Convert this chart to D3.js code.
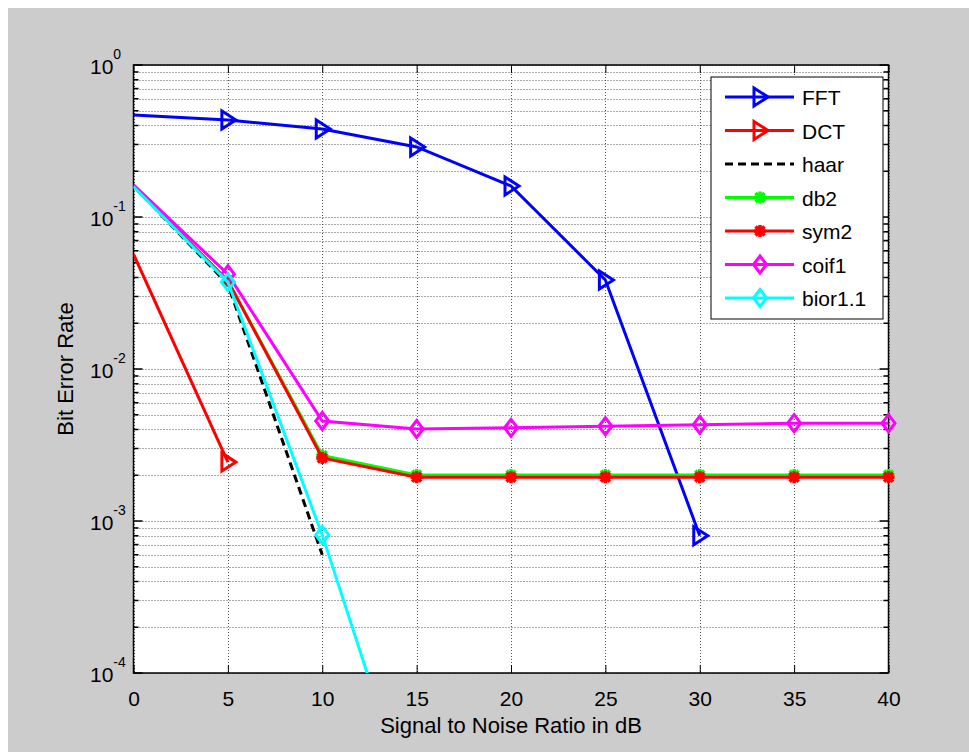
<!DOCTYPE html>
<style>
 body{
     margin : 0px;
     background: #fff;
 }
 svg{
     font-family: "Liberation Sans", Arial, sans-serif;
 }
 .grid line{
     stroke : #555;
     stroke-width : 1px;
     stroke-dasharray : 1,2;
 }
</style>
<body>
    <svg width="969" height="752"> </svg>
</body>
<script src="https://d3js.org/d3.v7.min.js"></script>
<script>

// snr values on the x axis (dB)
var snr = [0, 5, 10, 15, 20, 25, 30, 35, 40];
var xTicks = [0, 5, 10, 15, 20, 25, 30, 35, 40];
var yTickExp = [0, -1, -2, -3, -4];

// bit error rate per method, null = no point
var fft   = [0.469, 0.435, 0.379, 0.289, 0.160, 0.0385, 0.0008, null, null];
var dct   = [0.057, 0.00244, null, null, null, null, null, null, null];
var haar  = [0.160, 0.036, 0.0006, null, null, null, null, null, null];
var db2   = [0.160, 0.038, 0.0027, 0.00201, 0.00201, 0.00201, 0.00201, 0.00201, 0.00201];
var sym2  = [0.160, 0.038, 0.0026, 0.00194, 0.00194, 0.00194, 0.00194, 0.00194, 0.00194];
var coif1 = [0.163, 0.042, 0.00455, 0.00403, 0.0041, 0.0042, 0.0043, 0.0044, 0.0044];
var bior  = [0.158, 0.0373, 0.00081, 0.00001, null, null, null, null, null];

var series = [
    {name: "FFT",     values: fft,   color: "#0000ff", marker: "tri",  dash: null},
    {name: "DCT",     values: dct,   color: "#ff0000", marker: "tri",  dash: null},
    {name: "haar",    values: haar,  color: "#000000", marker: null,   dash: "8,5"},
    {name: "db2",     values: db2,   color: "#00ff00", marker: "star", dash: null},
    {name: "sym2",    values: sym2,  color: "#ff0000", marker: "star", dash: null},
    {name: "coif1",   values: coif1, color: "#ff00ff", marker: "dia",  dash: null},
    {name: "bior1.1", values: bior,  color: "#00ffff", marker: "dia",  dash: null}
];

var svg = d3.select("svg");
var box = {left: 133.5, right: 888.5, top: 65, bottom: 673};

svg.append("rect")
    .attr("x", 8).attr("y", 8)
    .attr("width", 961).attr("height", 744)
    .style("fill", "#cccccc");

svg.append("rect")
    .attr("x", box.left).attr("y", box.top)
    .attr("width", box.right - box.left).attr("height", box.bottom - box.top)
    .style("fill", "#fff");

var x = d3.scaleLinear().domain([0, 40]).range([box.left, box.right]);
var y = d3.scaleLog().domain([1e-4, 1]).range([box.bottom, box.top]);

// minor + major y values
var yMinor = [];
yTickExp.forEach(function(e){
    if(e == 0) return;
    for(var k = 2; k <= 9; k++){
	yMinor.push(k * Math.pow(10, e));
    }
});
var yMajor = yTickExp.map(function(e){ return Math.pow(10, e); });

// grid
var grid = svg.append("g").attr("class", "grid");
grid.selectAll(null).data(xTicks).enter().append("line")
    .attr("x1", function(d){ return Math.round(x(d)) + 0.5; })
    .attr("x2", function(d){ return Math.round(x(d)) + 0.5; })
    .attr("y1", box.top).attr("y2", box.bottom);
grid.selectAll(null).data(yMajor.concat(yMinor)).enter().append("line")
    .attr("x1", box.left).attr("x2", box.right)
    .attr("y1", function(d){ return Math.round(y(d)) + 0.5; })
    .attr("y2", function(d){ return Math.round(y(d)) + 0.5; });

// axes (ticks inside)
var axes = svg.append("g");
var xBottom = d3.axisBottom(x).tickValues(xTicks).tickSizeInner(-8).tickSizeOuter(0).tickPadding(18);
var xTop = d3.axisTop(x).tickValues(xTicks).tickSizeInner(-8).tickSizeOuter(0).tickFormat("");

var gxb = axes.append("g").attr("transform", "translate(0," + box.bottom + ")").call(xBottom);
axes.append("g").attr("transform", "translate(0," + box.top + ")").call(xTop);
gxb.selectAll("text").style("font-size", "21px").style("fill", "#000")
    .style("font-family", "Liberation Sans, Arial, sans-serif");

[box.left, box.right].forEach(function(px){
    var dir = px == box.left ? 1 : -1;
    axes.selectAll(null).data(yMajor).enter().append("line")
	.attr("x1", px).attr("x2", px + dir * 9)
	.attr("y1", function(d){ return y(d); })
	.attr("y2", function(d){ return y(d); })
	.style("stroke", "#000").style("stroke-width", 1.5);
    axes.selectAll(null).data(yMinor).enter().append("line")
	.attr("x1", px).attr("x2", px + dir * 5)
	.attr("y1", function(d){ return y(d); })
	.attr("y2", function(d){ return y(d); })
	.style("stroke", "#000").style("stroke-width", 1.5);
});
axes.selectAll("path.domain").remove();
axes.selectAll(".tick line").style("stroke", "#000").style("stroke-width", 1);

axes.append("rect")
    .attr("x", box.left).attr("y", box.top)
    .attr("width", box.right - box.left).attr("height", box.bottom - box.top)
    .style("fill", "none").style("stroke", "#000").style("stroke-width", 1.5);

// y tick labels 10^e
yTickExp.forEach(function(e){
    var t = svg.append("text")
	.attr("x", 90)
	.attr("y", y(Math.pow(10, e)) + 9)
	.style("font-size", "21px");
    t.append("tspan").text("10");
    t.append("tspan").attr("dy", -15).style("font-size", "14px").text(e);
});

// axis titles
svg.append("text")
    .attr("x", (box.left + box.right) / 2).attr("y", 733)
    .attr("text-anchor", "middle")
    .style("font-size", "22px")
    .text("Signal to Noise Ratio in dB");
svg.append("text")
    .attr("transform", "translate(73," + ((box.top + box.bottom) / 2) + ") rotate(-90)")
    .attr("text-anchor", "middle")
    .style("font-size", "22px")
    .text("Bit Error Rate");

// lines
svg.append("clipPath").attr("id", "clip")
    .append("rect")
    .attr("x", box.left).attr("y", box.top)
    .attr("width", box.right - box.left).attr("height", box.bottom - box.top);

var line = d3.line()
    .defined(function(d){ return d[1] != null; })
    .x(function(d){ return x(d[0]); })
    .y(function(d){ return y(d[1]); });

function markerPath(type){
    if(type == "tri") return "M-6,-9L-6,9L8,0Z";
    if(type == "dia") return "M0,-8.5L6.5,0L0,8.5L-6.5,0Z";
    if(type == "star") return "M-6,0L6,0M0,-6L0,6M-4.5,-4.5L4.5,4.5M-4.5,4.5L4.5,-4.5";
    return "";
}

series.forEach(function(s){
    var pts = snr.map(function(v, i){ return [v, s.values[i]]; });
    svg.append("path")
	.datum(pts)
	.attr("clip-path", "url(#clip)")
	.attr("d", line)
	.style("fill", "none")
	.style("stroke", s.color)
	.style("stroke-width", 3)
	.style("stroke-dasharray", s.dash);
    if(s.marker){
	// no marker on the first point (x = 0)
	svg.selectAll(null)
	    .data(pts.filter(function(d){ return d[0] > 0 && d[1] != null && d[1] >= 1e-4; }))
	    .enter().append("path")
	    .attr("transform", function(d){ return "translate(" + x(d[0]) + "," + y(d[1]) + ")"; })
	    .attr("d", markerPath(s.marker))
	    .style("fill", "none")
	    .style("stroke", s.color)
	    .style("stroke-width", s.marker == "star" ? 3.5 : 3);
    }
});

// legend
var lg = svg.append("g");
lg.append("rect")
    .attr("x", 711).attr("y", 77)
    .attr("width", 172).attr("height", 242)
    .style("fill", "#fff").style("stroke", "#000").style("stroke-width", 1);

series.forEach(function(s, i){
    var ly = 97 + i * 33.5;
    lg.append("line")
	.attr("x1", 725).attr("x2", 794)
	.attr("y1", ly).attr("y2", ly)
	.style("stroke", s.color).style("stroke-width", 3)
	.style("stroke-dasharray", s.dash);
    if(s.marker){
	lg.append("path")
	    .attr("transform", "translate(760," + ly + ")")
	    .attr("d", markerPath(s.marker))
	    .style("fill", "none").style("stroke", s.color)
	    .style("stroke-width", s.marker == "star" ? 3.5 : 3);
    }
    lg.append("text")
	.attr("x", 802).attr("y", ly + 8)
	.style("font-size", "21px")
	.text(s.name);
});

</script>
</html>
